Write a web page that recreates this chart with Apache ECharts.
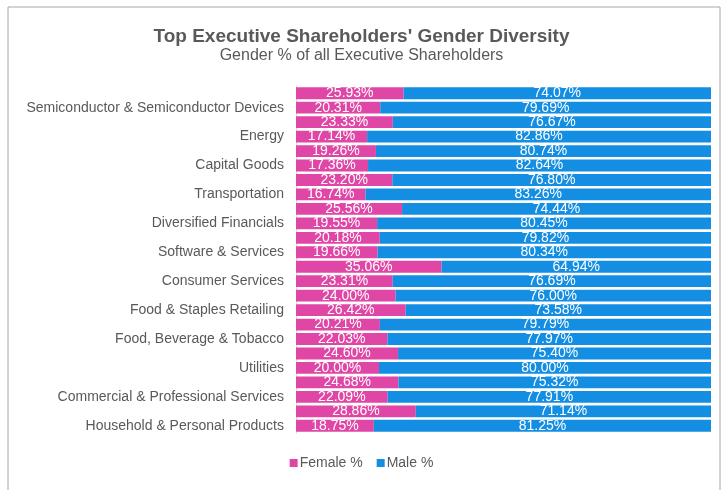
<!DOCTYPE html>
<html>
<head>
<meta charset="utf-8">
<script src="https://cdn.jsdelivr.net/npm/echarts@6/dist/echarts.min.js"></script>
<style>
  html, body { margin: 0; padding: 0; background: #fff; }
  #chart { width: 723px; height: 490px; }
</style>
</head>
<body>
<div id="chart"></div>
<script>
// 24 bars, only every other one carries a visible label (as in the original)
const categories = [
    "", "Semiconductor & Semiconductor Devices",
    " ", "Energy",
    "  ", "Capital Goods",
    "   ", "Transportation",
    "    ", "Diversified Financials",
    "     ", "Software & Services",
    "      ", "Consumer Services",
    "       ", "Food & Staples Retailing",
    "        ", "Food, Beverage & Tobacco",
    "         ", "Utilities",
    "          ", "Commercial & Professional Services",
    "           ", "Household & Personal Products"
];
const femalePct = [25.93, 20.31, 23.33, 17.14, 19.26, 17.36, 23.20, 16.74, 25.56, 19.55, 20.18, 19.66,
    35.06, 23.31, 24.00, 26.42, 20.21, 22.03, 24.60, 20.00, 24.68, 22.09, 28.86, 18.75];
const malePct = [74.07, 79.69, 76.67, 82.86, 80.74, 82.64, 76.80, 83.26, 74.44, 80.45, 79.82, 80.34,
    64.94, 76.69, 76.00, 73.58, 79.79, 77.97, 75.40, 80.00, 75.32, 77.91, 71.14, 81.25];

const chart = echarts.init(document.getElementById("chart"));

const labelStyle = {
    show: true,
    position: "inside",
    color: "#ffffff",
    fontSize: 14,
    fontFamily: "Liberation Sans",
    formatter: (p) => p.value.toFixed(2) + "%",
};

const option = {
    animation: false,
    textStyle: { fontFamily: "Liberation Sans" },
    title: {
        text: "Top Executive Shareholders' Gender Diversity",
        subtext: "Gender % of all Executive Shareholders",
        left: "center",
        top: 22,
        itemGap: 2,
        textStyle: { color: "#595959", fontSize: 19, fontWeight: "bold" },
        subtextStyle: { color: "#595959", fontSize: 16 },
    },
    legend: {
        bottom: 15,
        left: "center",
        itemWidth: 8,
        itemHeight: 8,
        itemGap: 14,
        icon: "rect",
        textStyle: { color: "#595959", fontSize: 14, padding: [0, 0, 0, -3] },
        data: ["Female %", "Male %"],
    },
    graphic: [{
        type: "rect",
        shape: { x: 8, y: 7, width: 712, height: 490 },
        style: { fill: "none", stroke: "#a6a6a6", lineWidth: 1 },
        silent: true,
    }],
    grid: { left: 296, right: 12, top: 86, bottom: 57 },
    xAxis: {
        type: "value",
        min: 0,
        max: 100,
        show: false,
    },
    yAxis: {
        type: "category",
        inverse: true,
        data: categories,
        axisTick: { show: false },
        axisLine: { show: true, lineStyle: { color: "#d9d9d9" } },
        axisLabel: {
            interval: (i) => i % 2 === 1,
            color: "#595959",
            fontSize: 14,
            margin: 12,
        },
    },
    series: [
        {
            name: "Female %",
            type: "bar",
            stack: "total",
            data: femalePct,
            barCategoryGap: "18%",
            itemStyle: { color: "#E046A6" },
            label: labelStyle,
        },
        {
            name: "Male %",
            type: "bar",
            stack: "total",
            data: malePct,
            itemStyle: { color: "#138EE2" },
            label: labelStyle,
        },
    ],
};

chart.setOption(option);
</script>
</body>
</html>
